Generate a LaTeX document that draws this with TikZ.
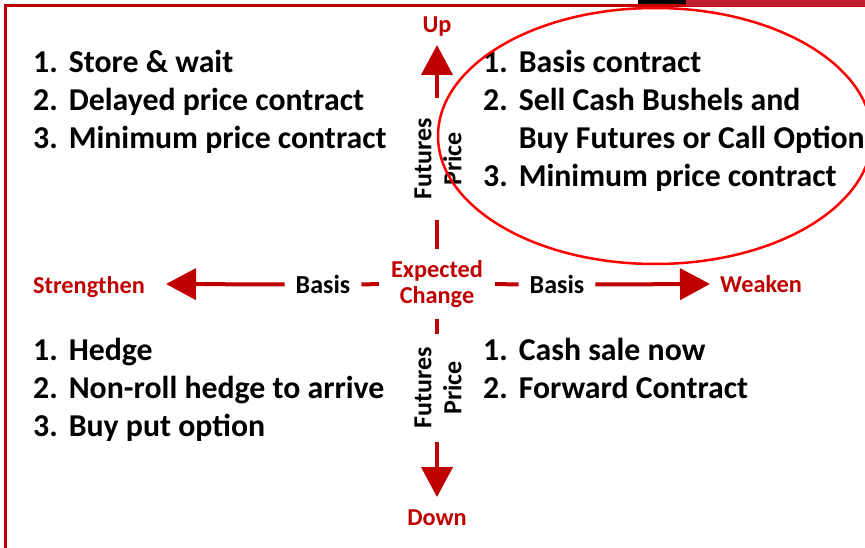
\documentclass[tikz,border=0pt]{standalone}
\usepackage{fontspec}
\setmainfont{Carlito}
\usetikzlibrary{arrows.meta}

\definecolor{darkred}{HTML}{C00000}
\definecolor{barred}{HTML}{BE1E2D}

\begin{document}
\begin{tikzpicture}[x=1pt, y=-1pt,
    axis/.style={draw=darkred, line width=4pt},
    tip/.style={-{Triangle[width=31pt 0, length=30pt 0]}},
    redlabel/.style={text=darkred, inner sep=0pt, font=\bfseries\fontsize{24.3}{26}\selectfont},
    axislabel/.style={inner ysep=0pt, inner xsep=11pt, font=\bfseries\fontsize{26}{30}\selectfont},
    choices/.style={anchor=base west, inner sep=0pt, font=\bfseries\fontsize{31.8}{38}\selectfont}]
    \useasboundingbox (0,0) rectangle (865,548);

    % Frame
    \draw[darkred, line width=3pt] (5.5,548) |- (865,5.5);
    \fill[black] (638,0) rectangle (686,4);
    \fill[barred] (686,0) rectangle (865,6.5);

    % Centre and axis labels
    \node [redlabel, align=center, inner xsep=12pt, inner ysep=11pt] (expch) at (437,284) {Expected\\Change};
    \node [axislabel] (basisl) at (323,284.5) {Basis};
    \node [axislabel] (basisr) at (557,284.5) {Basis};
    \node [axislabel, rotate=90, align=center, inner xsep=20pt] (futup) at (438,159) {Futures\\Price};
    \node [axislabel, rotate=90, align=center, inner xsep=13pt] (futdown) at (438,388) {Futures\\Price};

    % Ends of the axes
    \node [redlabel, anchor=base] (up) at (437,33) {Up};
    \node [redlabel, anchor=base] (down) at (437,525) {Down};
    \node [redlabel, anchor=base west] (strengthen) at (33,293) {Strengthen};
    \node [redlabel, anchor=base west] (weaken) at (720,292) {Weaken};
    \coordinate (uptip) at (437,45);
    \coordinate (downtip) at (437,497);
    \coordinate (lefttip) at (166,284);
    \coordinate (righttip) at (710,284);

    % Axes
    \draw[axis, tip] (uptip |- futup.east) -- (uptip);
    \draw[axis] (uptip |- futup.west) -- (expch.north);
    \draw[axis] (expch.south) -- (downtip |- futdown.east);
    \draw[axis, tip] (downtip |- futdown.west) -- (downtip);
    \draw[axis, tip] (basisl.west) -- (lefttip);
    \draw[axis] (expch.west) -- (basisl.east);
    \draw[axis] (expch.east) -- (basisr.west);
    \draw[axis, tip] (basisr.east) -- (righttip);

    % Marketing choices
    \node [choices] (upstrong) at (33,73) {\begin{tabular}[t]{@{}l@{\hspace{11pt}}l@{}}
        1. & Store \& wait\\
        2. & Delayed price contract\\
        3. & Minimum price contract
    \end{tabular}};
    \node [choices] (upweak) at (483,73) {\begin{tabular}[t]{@{}l@{\hspace{11pt}}l@{}}
        1. & Basis contract\\
        2. & Sell Cash Bushels and\\
           & Buy Futures or Call Option\\
        3. & Minimum price contract
    \end{tabular}};
    \node [choices] (downstrong) at (33,360) {\begin{tabular}[t]{@{}l@{\hspace{11pt}}l@{}}
        1. & Hedge\\
        2. & Non-roll hedge to arrive\\
        3. & Buy put option
    \end{tabular}};
    \node [choices] (downweak) at (483,360) {\begin{tabular}[t]{@{}l@{\hspace{11pt}}l@{}}
        1. & Cash sale now\\
        2. & Forward Contract
    \end{tabular}};

    % Circled quadrant
    \draw[red, line width=2.5pt] (655,136) ellipse [x radius=217, y radius=128];
\end{tikzpicture}
\end{document}
